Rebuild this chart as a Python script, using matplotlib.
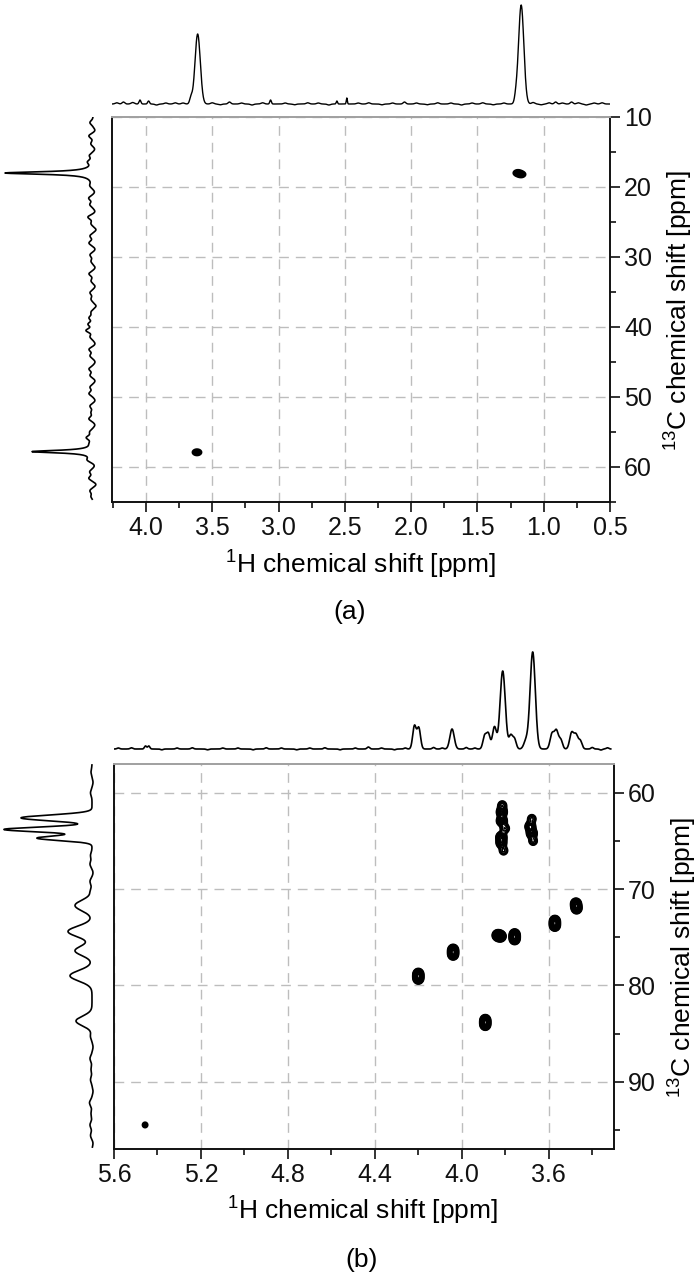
# HSQC spectra of ethanol (a) and sucrose (b), with 1D projections
import numpy as np
import matplotlib
matplotlib.use("Agg")
import matplotlib.pyplot as plt
from matplotlib.ticker import MultipleLocator, FormatStrFormatter

plt.rcParams["font.family"] = ["Liberation Sans", "DejaVu Sans"]
plt.rcParams["mathtext.fontset"] = "custom"
plt.rcParams["mathtext.rm"] = "Liberation Sans"

W, H = 700, 1277

# ---------------- panel (a) data ----------------
# 1H projection peaks: position [ppm], height [a.u.], width [ppm]
a_top_pos = [3.610, 3.660, 1.170, 1.210, 4.170, 4.045, 3.980, 3.370, 3.060, 2.560, 2.485, 2.050, 0.910, 0.790]
a_top_hgt = [70, 6, 99, 5, 2, 4, 3, 2, 4, 3, 6, 2, 2, 2]
a_top_wid = [0.020, 0.010, 0.020, 0.010, 0.010, 0.007, 0.007, 0.010, 0.006, 0.005, 0.004, 0.010, 0.010, 0.010]
# baseline ripple of the 1H projection
a_top_rip_pos = [4.22, 4.10, 3.92, 3.85, 3.78, 3.72, 3.50, 3.44, 3.28, 3.20, 3.12, 2.95, 2.88, 2.78, 2.70,
                 2.62, 2.40, 2.32, 2.22, 2.14, 1.96, 1.88, 1.80, 1.70, 1.62, 1.54, 1.46, 1.38, 1.30,
                 1.08, 1.02, 0.96, 0.86, 0.74, 0.68, 0.62, 0.56]
a_top_rip_amp = [1.2, 1.5, -1, 1, 1.2, 1, 1.2, -0.8, 1, -1, 1.2, 1, -0.8, 1.2, 1,
                 -1, 1, 1.2, -0.8, 1, 1, -0.8, 1.2, 1, -1, 1, 1.2, -0.8, 1,
                 1.5, -0.8, 1.2, 1, 1.2, -1, 1, 1.2]

# 13C projection peaks (Lorentzian half widths)
a_left_pos = [18.0, 57.8]
a_left_hgt = [88, 61]
a_left_wid = [0.22, 0.22]
a_left_rip_pos = [10.8, 11.9, 12.7, 13.8, 14.6, 15.5, 16.4, 19.8, 20.7, 21.6, 22.5, 23.5, 24.3, 25.2, 26.1,
                  27.0, 28.0, 28.9, 29.7, 30.6, 31.5, 32.4, 33.4, 34.2, 35.1, 36.0, 37.0, 37.9, 38.7,
                  39.6, 40.5, 41.4, 42.4, 43.2, 44.1, 45.0, 46.0, 46.9, 47.7, 48.6, 49.5, 50.5, 51.3,
                  52.2, 53.1, 54.0, 55.0, 55.8, 56.6, 59.0, 59.8, 60.7, 61.6, 62.5, 63.4, 64.2]
a_left_rip_amp = [3, -2, 4, 2, -2, 3, 4, 2, -2, 4, 3, -2, 5, 2, -3,
                  3, 4, -2, 3, 2, -2, 4, 2, -2, 3, 2, -3, 2, 4,
                  5, 7, 3, -2, 4, 3, -2, 4, 3, -2, 3, 4, -2, 3,
                  2, 4, -2, 3, 6, 2, 4, -2, 3, 4, -3, 3, 2]

# 2D cross peaks: 1H [ppm], 13C [ppm], amplitude
a_cross_h = [3.615, 1.195, 1.170]
a_cross_c = [57.9, 18.0, 18.2]
a_cross_amp = [1.0, 1.0, 0.9]

# ---------------- panel (b) data ----------------
b_top_pos = [5.455, 5.440, 4.218, 4.198, 4.045, 3.895, 3.878, 3.850, 3.812, 3.775, 3.758, 3.705,
             3.674, 3.585, 3.565, 3.545, 3.495, 3.475, 3.455]
b_top_hgt = [3, 3, 23, 21, 20, 13, 15, 22, 78, 13, 10, 8, 97, 15, 18, 9, 16, 14, 8]
b_top_wid = [0.005, 0.005, 0.008, 0.008, 0.010, 0.008, 0.008, 0.009, 0.012, 0.008, 0.008, 0.010,
             0.012, 0.009, 0.009, 0.008, 0.009, 0.009, 0.008]
b_top_rip_pos = [5.58, 5.52, 5.38, 5.31, 5.24, 5.17, 5.10, 5.03, 4.96, 4.90, 4.83, 4.76, 4.70,
                 4.63, 4.56, 4.49, 4.43, 4.37, 4.31, 4.26, 4.13, 4.09, 3.98, 3.94, 3.40, 3.36, 3.33]
b_top_rip_amp = [1, 1.2, -0.8, 1, 1.2, -0.8, 1, 1, -0.8, 1.2, 1, -0.8, 1,
                 1.2, -0.8, 1, 2, 1, -0.8, 1, 1.5, 1, 1.5, 1, 1.5, -1, 1.2]

b_left_pos = [62.6, 63.8, 64.7, 71.7, 74.4, 76.4, 79.0, 83.7, 94.5]
b_left_hgt = [71, 88, 55, 17, 24, 17, 22, 16, 2]
b_left_wid = [0.30, 0.25, 0.25, 0.55, 0.55, 0.50, 0.55, 0.50, 0.30]
b_left_rip_pos = [57.8, 58.9, 60.0, 66.5, 67.4, 68.3, 69.2, 70.2, 85.3, 86.4, 87.6, 88.7, 89.8,
                  91.0, 92.2, 93.3, 95.6, 96.4]
b_left_rip_amp = [1, -1, 1.5, 1.5, 2, -1, 2, 1.5, 1.5, -1, 2, 1, 1.5, -1, 2.5, 1, 1.5, -1]

b_cross_h = [3.816, 3.816, 3.814, 3.802, 3.818, 3.818, 3.808,
             3.685, 3.678, 3.678, 3.672,
             3.572, 3.572, 3.475, 3.472,
             3.836, 3.821, 3.757, 3.757,
             4.040, 4.040, 4.200, 4.200, 3.892, 3.892, 5.457]
b_cross_c = [62.0, 62.9, 61.3, 63.7, 64.6, 65.2, 66.0,
             63.5, 64.2, 62.7, 65.0,
             73.3, 73.8, 71.5, 72.0,
             74.8, 74.9, 74.7, 75.2,
             76.3, 76.8, 78.8, 79.3, 83.6, 84.1, 94.5]
b_cross_amp = [1.0, 1.0, 0.45, 0.5, 1.0, 0.85, 0.4,
               0.9, 0.95, 0.4, 0.4,
               0.9, 0.9, 0.9, 0.9,
               0.9, 0.9, 0.9, 0.9,
               0.9, 0.9, 0.9, 0.9, 0.9, 0.9, 0.2]


def line_shape(x, pos, hgt, wid):
    y = np.zeros_like(x)
    for p, h, w in zip(pos, hgt, wid):
        y += h*np.exp(-0.5*((x - p)/w)**2)
    return y


def lorentz(x, pos, hgt, wid):
    y = np.zeros_like(x)
    for p, h, w in zip(pos, hgt, wid):
        y += h/(1 + ((x - p)/w)**2)
    return y


def add_axes_px(x0, y0, x1, y1):
    return fig.add_axes([x0/W, 1 - y1/H, (x1 - x0)/W, (y1 - y0)/H])


def setup_main(ax, xlim, ylim, xmaj, xmin, ymaj, ymin):
    ax.set_xlim(xlim)
    ax.set_ylim(ylim)
    ax.xaxis.set_major_locator(MultipleLocator(xmaj))
    ax.xaxis.set_minor_locator(MultipleLocator(xmin))
    ax.yaxis.set_major_locator(MultipleLocator(ymaj))
    ax.yaxis.set_minor_locator(MultipleLocator(ymin))
    ax.xaxis.set_major_formatter(FormatStrFormatter("%.1f"))
    ax.yaxis.set_major_formatter(FormatStrFormatter("%d"))
    ax.yaxis.tick_right()
    ax.tick_params(which="both", direction="out", width=1.2, colors="#111111")
    ax.tick_params(which="major", length=7, labelsize=18, pad=3)
    ax.tick_params(which="minor", length=4)
    ax.tick_params(axis="y", left=False, right=True)
    ax.grid(True, which="major", color="#bdbdbd", linestyle=(0, (7, 5)), linewidth=1.0)
    ax.set_axisbelow(True)
    for s in ["left", "bottom", "right"]:
        ax.spines[s].set_linewidth(1.4)
        ax.spines[s].set_color("#111111")
    ax.spines["top"].set_linewidth(1.4)
    ax.spines["top"].set_color("#a0a0a0")


def draw_cross(ax, xlim, ylim, hs, cs, amps, sh, sc, levels, lw):
    xx = np.linspace(xlim[0], xlim[1], 1000)
    yy = np.linspace(ylim[0], ylim[1], 800)
    X, Y = np.meshgrid(xx, yy)
    Z = np.zeros_like(X)
    for h, c, a in zip(hs, cs, amps):
        Z += a*np.exp(-0.5*((X - h)/sh)**2 - 0.5*((Y - c)/sc)**2)
    ax.contour(X, Y, Z, levels=levels, colors="black", linewidths=lw)


fig = plt.figure(figsize=(W/100, H/100), dpi=100)

label_h = r"$\mathregular{^{1}}$H chemical shift [ppm]"
label_c = r"$\mathregular{^{13}}$C chemical shift [ppm]"

# ================= panel (a) =================
a_xlim = (4.256, 0.5)
a_ylim = (65, 10)
ax_a = add_axes_px(112, 117, 610, 502)
setup_main(ax_a, a_xlim, a_ylim, 0.5, 0.25, 10, 5)
draw_cross(ax_a, a_xlim, (10, 65), a_cross_h, a_cross_c, a_cross_amp, 0.018, 0.24,
           [0.15, 0.3, 0.45, 0.6, 0.75, 0.9, 1.05, 1.2, 1.35, 1.5, 1.65], 1.1)

ax_at = add_axes_px(112, 0, 610, 110)
xh = np.linspace(a_xlim[0], a_xlim[1], 3000)
yh = line_shape(xh, a_top_pos, a_top_hgt, a_top_wid) + \
    line_shape(xh, a_top_rip_pos, a_top_rip_amp, [0.012]*len(a_top_rip_pos))
ax_at.plot(xh, yh, color="black", lw=1.0)
ax_at.set_xlim(a_xlim)
ax_at.set_ylim(-6, 104)
ax_at.axis("off")

ax_al = add_axes_px(0, 117, 100, 502)
yc = np.linspace(10.1, 64.6, 3000)
xc = lorentz(yc, a_left_pos, a_left_hgt, a_left_wid) + \
    line_shape(yc, a_left_rip_pos, a_left_rip_amp, [0.28]*len(a_left_rip_pos))
ax_al.plot(xc, yc, color="black", lw=1.2)
ax_al.set_xlim(93, -7)
ax_al.set_ylim(a_ylim)
ax_al.axis("off")

fig.text(360/W, 1 - 565/H, label_h, ha="center", va="center", fontsize=19)
fig.text(679/W, 1 - 310/H, label_c, ha="center", va="center", fontsize=19, rotation=90)
fig.text(350/W, 1 - 612/H, "(a)", ha="center", va="center", fontsize=19)

# ================= panel (b) =================
b_xlim = (5.6, 3.3)
b_ylim = (97, 57)
ax_b = add_axes_px(114, 764, 614, 1149)
setup_main(ax_b, b_xlim, b_ylim, 0.4, 0.2, 10, 5)
draw_cross(ax_b, b_xlim, (57, 97), b_cross_h, b_cross_c, b_cross_amp, 0.012, 0.28,
           [0.12, 0.16, 0.19, 0.24, 0.36, 0.5, 0.65, 0.8, 0.95, 1.1, 1.25, 1.4, 1.55], 1.2)

ax_bt = add_axes_px(114, 640, 614, 756)
xh = np.linspace(5.6, 3.315, 3000)
yh = line_shape(xh, b_top_pos, b_top_hgt, b_top_wid) + \
    line_shape(xh, b_top_rip_pos, b_top_rip_amp, [0.006]*len(b_top_rip_pos))
ax_bt.plot(xh, yh, color="black", lw=1.2)
ax_bt.set_xlim(b_xlim)
ax_bt.set_ylim(-7, 109)
ax_bt.axis("off")

ax_bl = add_axes_px(0, 764, 100, 1149)
yc = np.linspace(57.1, 96.8, 2000)
xc = line_shape(yc, b_left_pos, b_left_hgt, b_left_wid) + \
    line_shape(yc, b_left_rip_pos, b_left_rip_amp, [0.3]*len(b_left_rip_pos))
ax_bl.plot(xc, yc, color="black", lw=1.2)
ax_bl.set_xlim(92, -8)
ax_bl.set_ylim(b_ylim)
ax_bl.axis("off")

fig.text(362/W, 1 - 1211/H, label_h, ha="center", va="center", fontsize=19)
fig.text(683/W, 1 - 957/H, label_c, ha="center", va="center", fontsize=19, rotation=90)
fig.text(362/W, 1 - 1260/H, "(b)", ha="center", va="center", fontsize=19)

fig.savefig("out.png", dpi=100)
